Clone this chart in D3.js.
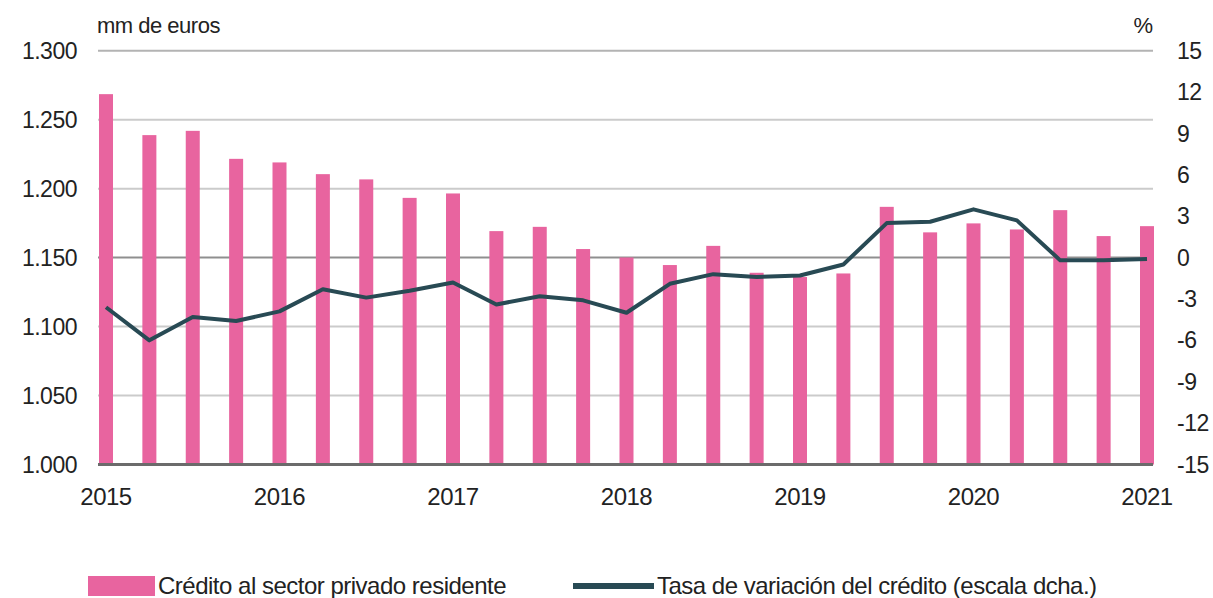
<!DOCTYPE html>
<html>
<head>
<meta charset="utf-8">
<script src="https://cdn.jsdelivr.net/npm/d3@7"></script>
<style>
  body { margin: 0; background: #fff; }
  svg { display: block; font-family: "Liberation Sans", Arial, sans-serif; }
  text { fill: #222; }
</style>
</head>
<body>
<div id="chart"></div>
<script>
/*
  DATA
*/
var quarters = ["2015-I", "2015-II", "2015-III", "2015-IV",
  "2016-I", "2016-II", "2016-III", "2016-IV",
  "2017-I", "2017-II", "2017-III", "2017-IV",
  "2018-I", "2018-II", "2018-III", "2018-IV",
  "2019-I", "2019-II", "2019-III", "2019-IV",
  "2020-I", "2020-II", "2020-III", "2020-IV",
  "2021-I"];
// credito al sector privado residente, mm de euros
var credito = [1268.5, 1238.8, 1241.9, 1221.6, 1219.0, 1210.5, 1206.7, 1193.3,
  1196.5, 1169.2, 1172.3, 1156.2, 1150.1, 1144.6, 1158.5, 1139.0,
  1135.9, 1138.5, 1186.8, 1168.3, 1174.8, 1170.4, 1184.4, 1165.6, 1172.8];
// tasa de variacion, %
var tasa = [-3.6, -6.0, -4.3, -4.6, -3.9, -2.3, -2.9, -2.4,
  -1.8, -3.4, -2.8, -3.1, -4.0, -1.9, -1.2, -1.4,
  -1.3, -0.5, 2.5, 2.6, 3.5, 2.7, -0.2, -0.2, -0.1];
var leftTicks = [1000, 1050, 1100, 1150, 1200, 1250, 1300];
var rightTicks = [15, 12, 9, 6, 3, 0, -3, -6, -9, -12, -15];
var yearLabels = ["2015", "2016", "2017", "2018", "2019", "2020", "2021"];

var width = 1213;
var height = 598;
var plotLeft = 98, plotRight = 1153, plotTop = 50.7, plotBottom = 464.5;

var es = d3.formatLocale({decimal: ",", thousands: ".", grouping: [3], currency: ["", " €"], minus: "-"});
var fmt = es.format(",");

var svg = d3.select("#chart")
  .append("svg")
    .attr("width", width)
    .attr("height", height);

var x = d3.scalePoint()
  .domain(quarters)
  .range([106, 1147]);

var yL = d3.scaleLinear().domain([1000, 1300]).range([plotBottom, plotTop]);
var yR = d3.scaleLinear().domain([-15, 15]).range([plotBottom, plotTop]);

/*
  GRID
*/
svg.append("g")
  .selectAll("line")
  .data(leftTicks.filter(d => d > 1000))
  .enter()
  .append("line")
    .attr("x1", plotLeft)
    .attr("x2", plotRight)
    .attr("y1", d => yL(d))
    .attr("y2", d => yL(d))
    .attr("stroke", d => d === 1150 ? "#8f8f8f" : (d === 1300 ? "#b3b3b3" : "#cbcbcb"))
    .attr("stroke-width", 2);

/*
  BARS
*/
var barW = 14;
svg.append("g")
  .selectAll("rect")
  .data(credito)
  .enter()
  .append("rect")
    .attr("x", (d, i) => x(quarters[i]) - barW / 2)
    .attr("y", d => yL(d))
    .attr("width", barW)
    .attr("height", d => yL(1000) - yL(d))
    .attr("fill", "#e8649f");

// base line
svg.append("line")
  .attr("x1", plotLeft)
  .attr("x2", plotRight)
  .attr("y1", yL(1000))
  .attr("y2", yL(1000))
  .attr("stroke", "#6b6b6b")
  .attr("stroke-width", 3);

/*
  LINE
*/
var line = d3.line()
  .x((d, i) => x(quarters[i]))
  .y(d => yR(d));

svg.append("path")
  .datum(tasa)
  .attr("d", line)
  .attr("fill", "none")
  .attr("stroke", "#284a54")
  .attr("stroke-width", 4)
  .attr("stroke-linejoin", "round");

/*
  AXES
*/
svg.append("g")
  .selectAll("text")
  .data(leftTicks)
  .enter()
  .append("text")
    .attr("x", 77)
    .attr("y", d => yL(d))
    .attr("dy", "0.35em")
    .attr("text-anchor", "end")
    .attr("font-size", 23)
    .attr("letter-spacing", -0.5)
    .text(d => fmt(d));

svg.append("g")
  .selectAll("text")
  .data(rightTicks)
  .enter()
  .append("text")
    .attr("x", 1177)
    .attr("y", d => yR(d))
    .attr("dy", "0.35em")
    .attr("font-size", 23)
    .attr("letter-spacing", -0.5)
    .text(d => es.format("d")(d));

svg.append("g")
  .selectAll("text")
  .data(yearLabels)
  .enter()
  .append("text")
    .attr("x", d => x(d + "-I"))
    .attr("y", 505)
    .attr("text-anchor", "middle")
    .attr("font-size", 24)
    .attr("letter-spacing", -0.5)
    .text(d => d);

svg.append("text")
  .attr("x", 97)
  .attr("y", 25)
  .attr("dy", "0.35em")
  .attr("font-size", 22)
  .attr("letter-spacing", -0.5)
  .text("mm de euros");

svg.append("text")
  .attr("x", 1153)
  .attr("y", 25)
  .attr("dy", "0.35em")
  .attr("text-anchor", "end")
  .attr("font-size", 22)
  .text("%");

/*
  LEGEND
*/
var legY = 586;
svg.append("rect")
  .attr("x", 88)
  .attr("y", legY - 10)
  .attr("width", 67)
  .attr("height", 20)
  .attr("fill", "#e8649f");
svg.append("text")
  .attr("x", 158)
  .attr("y", legY)
  .attr("dy", "0.35em")
  .attr("font-size", 24)
  .attr("letter-spacing", -0.5)
  .text("Crédito al sector privado residente");

svg.append("line")
  .attr("x1", 573)
  .attr("x2", 654)
  .attr("y1", legY)
  .attr("y2", legY)
  .attr("stroke", "#284a54")
  .attr("stroke-width", 6);
svg.append("text")
  .attr("x", 657)
  .attr("y", legY)
  .attr("dy", "0.35em")
  .attr("font-size", 24)
  .attr("letter-spacing", -0.5)
  .text("Tasa de variación del crédito (escala dcha.)");
</script>
</body>
</html>
